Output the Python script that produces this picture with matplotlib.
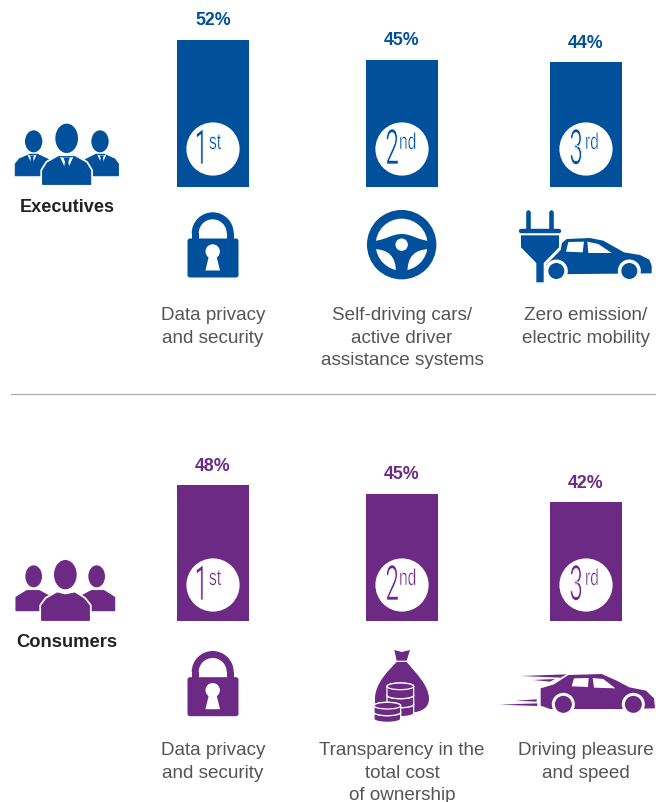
import numpy as np
import matplotlib
matplotlib.use("Agg")
import matplotlib.pyplot as plt
import matplotlib.patheffects as pe
from matplotlib.patches import Circle, Ellipse, FancyBboxPatch, PathPatch, Polygon, Wedge, Rectangle
from matplotlib.path import Path
from matplotlib.transforms import Affine2D

plt.rcParams['font.family'] = ['Liberation Sans', 'DejaVu Sans']

BLUE = '#00509b'
PURPLE = '#6d2a84'
TEXT = '#555555'

exec_values = [52, 45, 44]
cons_values = [48, 45, 42]
ranks = [('1', 'st'), ('2', 'nd'), ('3', 'rd')]
exec_labels = ['Data privacy\nand security',
               'Self-driving cars/\nactive driver\nassistance systems',
               'Zero emission/\nelectric mobility']
cons_labels = ['Data privacy\nand security',
               'Transparency in the\ntotal cost\nof ownership',
               'Driving pleasure\nand speed']

W, H = 656, 803
CENTERS = [213, 402, 586]
BAR_W = 72
PX_PER_PCT = 2.82


class Squeeze(pe.AbstractPathEffect):
    """Narrow a text horizontally around its anchor and thin it a little."""
    def __init__(self, x0, sx, thin):
        super().__init__()
        self.x0, self.sx, self.thin = x0, sx, thin

    def draw_path(self, renderer, gc, tpath, affine, rgbFace=None):
        t = affine + Affine2D().translate(-self.x0, 0).scale(self.sx, 1).translate(self.x0, 0)
        renderer.draw_path(gc, tpath, t, rgbFace)
        gc0 = renderer.new_gc()
        gc0.copy_properties(gc)
        gc0.set_foreground('white')
        gc0.set_linewidth(self.thin)
        renderer.draw_path(gc0, tpath, t, None)
        gc0.restore()


fig = plt.figure(figsize=(W / 100, H / 100), dpi=100)


def bar_axes(values, baseline, color):
    ax = fig.add_axes([0, 1 - baseline / H, 1, baseline / H])
    ax.set_xlim(0, W)
    ax.set_ylim(0, baseline / PX_PER_PCT)
    ax.axis('off')
    ax.bar(CENTERS, values, width=BAR_W, color=color, linewidth=0)
    for x, v in zip(CENTERS, values):
        ax.annotate(f'{v}%', (x, v), xytext=(0, 20 * 0.72), textcoords='offset points',
                    ha='center', va='center', color=color, fontsize=12.8, fontweight='bold',
                    annotation_clip=False)
    return ax


bar_axes(exec_values, 187.5, BLUE)
bar_axes(cons_values, 621.5, PURPLE)

ov = fig.add_axes([0, 0, 1, 1])
ov.set_xlim(0, W)
ov.set_ylim(H, 0)
ov.axis('off')
ov.patch.set_alpha(0)


def zoomed(x0, y0):
    return lambda pts: [(x0 + a / 3, y0 + b / 3) for a, b in pts]


def poly(pts, color, z=3, lw=0.0):
    ov.add_patch(Polygon(pts, closed=True, fc=color, ec=color, lw=lw, zorder=z, joinstyle='round'))


def rank_badge(cx, cy, color, rank, digit_x, sup_x):
    ov.add_patch(Circle((cx, cy), 26.6, fc='white', ec='none', zorder=3))
    big, sup = rank
    t = ov.text(digit_x, cy + 15, big, fontsize=35, family='Roboto', color=color,
                ha='right', va='baseline', zorder=4)
    t.set_path_effects([Squeeze(digit_x, 0.5, 0.5)])
    t = ov.text(sup_x, cy, sup, fontsize=16.5, color=color, ha='left', va='baseline', zorder=4)
    t.set_path_effects([Squeeze(sup_x, 0.68, 0.25)])


def person(z, hx, hy, rx, ry, body, color, tie, zo=3, outline=False):
    ov.add_patch(Ellipse(z([(hx, hy)])[0], 2 * rx / 3, 2 * ry / 3, fc=color, ec='none', zorder=zo))
    pts = z(body)
    if outline:
        ov.add_patch(Polygon(pts, closed=True, fc='white', ec='white', lw=3.4, zorder=zo, joinstyle='round'))
    poly(pts, color, zo + 0.1, 0.8)
    if tie:
        cx = (body[0][0] + body[-1][0]) / 2
        top = min(b for _, b in body)
        k = (body[-1][0] - body[0][0]) / 144
        poly(z([(cx - 20 * k, top + 1), (cx, top + 44 * k), (cx + 20 * k, top + 1), (cx + 9 * k, top + 3), (cx - 9 * k, top + 3)]), 'white', zo + 0.2)
        poly(z([(cx - 9 * k, top + 4), (cx + 9 * k, top + 4), (cx + 5 * k, top + 16 * k), (cx + 9 * k, top + 38 * k),
                (cx, top + 46 * k), (cx - 9 * k, top + 38 * k), (cx - 5 * k, top + 16 * k)]), color, zo + 0.3)


def group_exec():
    z = zoomed(0, 110)
    left = [(46, 200), (46, 165), (58, 150), (90, 136), (112, 136), (146, 152), (146, 200)]
    right = [(256, 200), (256, 152), (288, 136), (312, 136), (344, 150), (355, 165), (355, 200)]
    person(z, 101, 97, 26, 33, left, BLUE, True)
    person(z, 300, 97, 26, 33, right, BLUE, True)
    mid = [(128, 226), (128, 185), (142, 162), (176, 143), (224, 143), (258, 162), (272, 185), (272, 226)]
    person(z, 200, 88, 34, 44, mid, BLUE, True, zo=5, outline=True)


def group_cons():
    z = zoomed(0, 550)
    left = [(48, 185), (48, 145), (80, 125), (118, 125), (146, 140), (146, 185)]
    right = [(246, 185), (246, 140), (274, 125), (312, 125), (344, 145), (344, 185)]
    person(z, 101, 82, 25, 33, left, PURPLE, False)
    person(z, 290, 82, 25, 33, right, PURPLE, False)
    mid = [(125, 214), (125, 170), (140, 150), (172, 132), (196, 138), (224, 132), (252, 150), (268, 170), (268, 214)]
    person(z, 196, 77, 34, 44, mid, PURPLE, False, zo=5, outline=True)


def lock(dy, color):
    cx, cy = 212.7, 234.3 + dy
    ov.add_patch(Wedge((cx, cy), 21, 180, 360, width=7, fc=color, ec='none', zorder=3))
    ov.add_patch(FancyBboxPatch((187.5, 239.5 + dy), 51, 39, boxstyle='round,pad=0,rounding_size=2.5',
                                fc=color, ec='none', zorder=3))
    ov.add_patch(Rectangle((cx - 21, cy - 0.5), 7, 7, fc=color, ec='none', zorder=3))
    ov.add_patch(Rectangle((cx + 14, cy - 0.5), 7, 7, fc=color, ec='none', zorder=3))
    ov.add_patch(Circle((cx, 252.5 + dy), 7.2, fc='white', ec='none', zorder=4))
    poly([(cx - 3.5, 256 + dy), (cx + 3.5, 256 + dy), (cx + 7.3, 271.5 + dy), (cx - 7.3, 271.5 + dy)], 'white', 4)


def wheel():
    z = zoomed(350, 120)
    c = z([(155, 377)])[0]
    ov.add_patch(Circle(c, 34.7, fc=BLUE, ec='none', zorder=3))
    ov.add_patch(Circle(c, 26, fc='white', ec='none', zorder=3.1))
    pts = z([(72, 366), (110, 362), (125, 345), (155, 345), (185, 345), (200, 362), (238, 366),
             (238, 390), (195, 392), (172, 410), (172, 462), (138, 462), (138, 410), (115, 392), (72, 390), (72, 366)])
    codes = [Path.MOVETO, Path.CURVE4, Path.CURVE4, Path.CURVE4, Path.CURVE4, Path.CURVE4, Path.CURVE4,
             Path.LINETO, Path.CURVE4, Path.CURVE4, Path.LINETO, Path.LINETO, Path.CURVE4, Path.CURVE4, Path.CURVE4, Path.CLOSEPOLY]
    ov.add_patch(PathPatch(Path(pts, codes), fc=BLUE, ec='none', zorder=3.2))
    ov.add_patch(Circle(c, 6.2, fc='white', ec='none', zorder=3.3))


def plug_car():
    z = zoomed(350, 120)
    for a in (534, 604):
        ov.plot(*zip(*z([(a, 278), (a, 330)])), color=BLUE, lw=3.3, solid_capstyle='round', zorder=3)
    ov.plot(*zip(*z([(512, 335), (628, 335)])), color=BLUE, lw=3.2, solid_capstyle='round', zorder=3)
    poly(z([(513, 349), (627, 349), (627, 385), (581, 432), (581, 490), (559, 490), (559, 432), (513, 385)]), BLUE)
    poly(z([(588, 438), (632, 393), (636, 372), (650, 360), (720, 357), (760, 365), (822, 400), (870, 408),
            (898, 422), (905, 440), (905, 463), (592, 466)]), BLUE)
    poly(z([(655, 369), (702, 368), (698, 400), (648, 398)]), 'white', 4)
    poly(z([(712, 368), (745, 375), (785, 402), (715, 402)]), 'white', 4)
    for a in (619, 838):
        c = z([(a, 456)])[0]
        ov.add_patch(Circle(c, 11.5, fc='white', ec='none', zorder=4))
        ov.add_patch(Circle(c, 8, fc=BLUE, ec='none', zorder=5))


def coin(z, x0, x1, y, h, zo):
    cx, rx, ry = (x0 + x1) / 2, (x1 - x0) / 2, 10
    ang = np.linspace(0, np.pi, 24)
    low = [(cx - rx * np.cos(a), y + h + ry * np.sin(a)) for a in ang]
    up = [(cx + rx * np.cos(a), y - ry * np.sin(a)) for a in ang]
    ov.add_patch(Polygon(z(low + up), closed=True, fc=PURPLE, ec='white', lw=0.9, zorder=zo))
    ov.add_patch(Ellipse(z([(cx, y)])[0], 2 * rx / 3, 2 * ry / 3, fc=PURPLE, ec='white', lw=0.9, zorder=zo))


def money_bag():
    z = zoomed(350, 550)
    poly(z([(133, 303), (155, 309), (180, 303), (170, 335), (140, 335)]), PURPLE)
    pts = z([(140, 339), (170, 339), (200, 375), (237, 410), (237, 450), (237, 475), (215, 488), (190, 490),
             (150, 500), (75, 480), (75, 445), (78, 400), (115, 365), (140, 339), (140, 339)])
    codes = [Path.MOVETO, Path.LINETO, Path.CURVE4, Path.CURVE4, Path.CURVE4, Path.CURVE4, Path.CURVE4, Path.CURVE4,
             Path.LINETO, Path.LINETO, Path.LINETO, Path.CURVE4, Path.CURVE4, Path.CURVE4, Path.CLOSEPOLY]
    ov.add_patch(PathPatch(Path(pts, codes), fc=PURPLE, ec='none', zorder=3))
    for i, y in enumerate((466, 439, 412)):
        coin(z, 111, 191, y, 27, 6 + i * 0.1)
    for i, y in enumerate((490, 470)):
        coin(z, 72, 152, y, 20, 7 + i * 0.1)


def speed_car():
    z = zoomed(350, 550)
    poly(z([(572, 470), (572, 418), (612, 406), (655, 378), (755, 375), (800, 395), (838, 415), (888, 425),
            (912, 448), (915, 478), (830, 480), (600, 480)]), PURPLE)
    poly(z([(672, 388), (716, 387), (714, 414), (665, 412)]), 'white', 4)
    poly(z([(728, 387), (760, 390), (796, 418), (732, 416)]), 'white', 4)
    for a in (640, 850):
        c = z([(a, 466)])[0]
        ov.add_patch(Circle(c, 11.5, fc='white', ec='none', zorder=4))
        ov.add_patch(Circle(c, 8.5, fc=PURPLE, ec='none', zorder=5))
    for tri in ([(512, 381), (650, 376), (632, 386)], [(550, 393), (615, 390), (600, 398)],
                [(498, 455), (560, 451), (560, 458)], [(448, 467), (562, 463), (562, 471)]):
        poly(z(tri), PURPLE)


for cy, color in ((150, BLUE), (586, PURPLE)):
    for cx, rank, dx, sx in zip(CENTERS, ranks, (208, 399, 583), (209, 399, 585)):
        rank_badge(cx, cy, color, rank, dx, sx)

group_exec()
group_cons()
lock(0, BLUE)
lock(438.7, PURPLE)
wheel()
plug_car()
money_bag()
speed_car()

ov.text(67, 207, 'Executives', fontsize=13.1, fontweight='bold', color='#222222', ha='center', va='center')
ov.text(67, 643, 'Consumers', fontsize=13.2, fontweight='bold', color='#222222', ha='center', va='center')

for labels, top in ((exec_labels, 316), (cons_labels, 751)):
    for cx, lab in zip(CENTERS, labels):
        for i, line in enumerate(lab.split('\n')):
            ov.text(cx, top + i * 22.5, line, fontsize=13.6, color=TEXT, ha='center', va='center')

ov.plot([11, 656], [395, 395], color='#b0b0b0', lw=0.9)

fig.savefig('out.png', dpi=100)
